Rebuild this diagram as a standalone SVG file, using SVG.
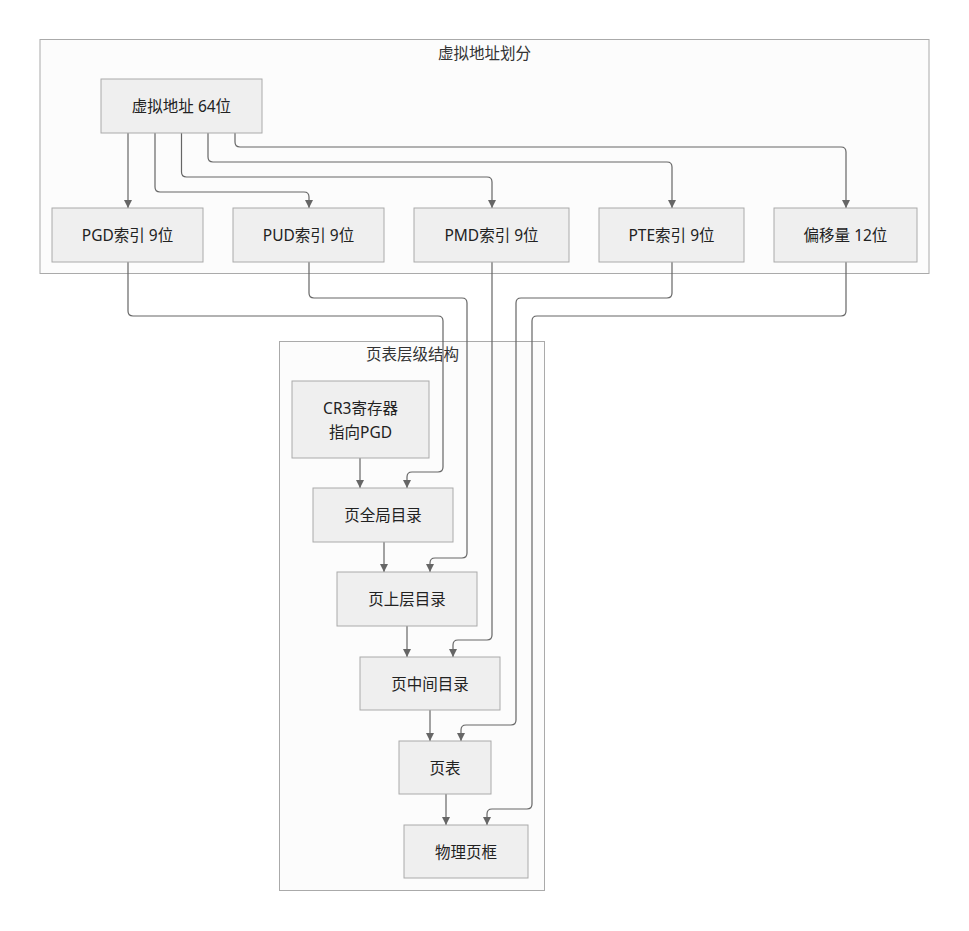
<svg xmlns="http://www.w3.org/2000/svg" width="969" height="931" viewBox="0 0 969 931">
<style>
.cluster{fill:#fcfcfc;stroke:#aaaaaa;stroke-width:1}
.node rect{fill:#efefef;stroke:#aaaaaa;stroke-width:1}
text{font-family:"Noto Sans","Noto Sans CJK SC",sans-serif;font-size:15.5px;fill:#222;text-anchor:middle;dominant-baseline:central}
.title{fill:#333}
.edge{fill:none;stroke:#666666;stroke-width:1.2;marker-end:url(#arr)}
</style>
<defs>
<marker id="arr" viewBox="0 0 10 10" refX="10" refY="5" markerWidth="8" markerHeight="8" markerUnits="userSpaceOnUse" orient="auto">
<path d="M0,0 L10,5 L0,10 z" fill="#666666"/>
</marker>
</defs>
<rect width="969" height="931" fill="#ffffff"/>
<g id="cluster-vaddr">
<rect class="cluster" x="40" y="39.5" width="889" height="234"/>
<text class="title" x="484.5" y="53">虚拟地址划分</text>
</g>
<g id="cluster-pt">
<rect class="cluster" x="279.5" y="341.5" width="265" height="549"/>
<text class="title" x="412.5" y="354">页表层级结构</text>
</g>
<g id="edges">
<path class="edge" d="M128,133 V208"/>
<path class="edge" d="M155,133 V187 Q155,192 160,192 H304 Q309,192 309,197 V208"/>
<path class="edge" d="M181.5,133 V172 Q181.5,177 186.5,177 H487 Q492,177 492,182 V208"/>
<path class="edge" d="M208,133 V157 Q208,162 213,162 H667 Q672,162 672,167 V208"/>
<path class="edge" d="M235,133 V142 Q235,147 240,147 H841 Q846,147 846,152 V208"/>
<path class="edge" d="M128,262 V311 Q128,316 133,316 H438 Q443,316 443,321 V467 Q443,472 438,472 H412 Q407,472 407,477 V488"/>
<path class="edge" d="M309,262 V293 Q309,298 314,298 H462 Q467,298 467,303 V553 Q467,558 462,558 H435 Q430,558 430,563 V572"/>
<path class="edge" d="M492,262 V635 Q492,640 487,640 H458 Q453,640 453,645 V657"/>
<path class="edge" d="M672,262 V293 Q672,298 667,298 H521 Q516,298 516,303 V720 Q516,725 511,725 H466 Q461,725 461,730 V741"/>
<path class="edge" d="M846,262 V311 Q846,316 841,316 H537 Q532,316 532,321 V804 Q532,809 527,809 H492 Q487,809 487,814 V825"/>
<path class="edge" d="M360,458 V488"/>
<path class="edge" d="M384,542 V572"/>
<path class="edge" d="M407,626 V657"/>
<path class="edge" d="M430,710 V741"/>
<path class="edge" d="M446,794 V825"/>
</g>
<g id="node-vaddr" class="node"><rect x="101" y="79" width="161" height="54"/><text x="181.5" y="106">虚拟地址 64位</text></g>
<g id="node-pgd" class="node"><rect x="52" y="208" width="151" height="54"/><text x="127.5" y="235">PGD索引 9位</text></g>
<g id="node-pud" class="node"><rect x="233" y="208" width="151" height="54"/><text x="308.5" y="235">PUD索引 9位</text></g>
<g id="node-pmd" class="node"><rect x="414" y="208" width="155" height="54"/><text x="491.5" y="235">PMD索引 9位</text></g>
<g id="node-pte" class="node"><rect x="599" y="208" width="145" height="54"/><text x="671.5" y="235">PTE索引 9位</text></g>
<g id="node-offset" class="node"><rect x="774" y="208" width="143" height="54"/><text x="845.5" y="235">偏移量 12位</text></g>
<g id="node-cr3" class="node"><rect x="292" y="381" width="137" height="77"/><text x="360.5" y="408">CR3寄存器</text><text x="360.5" y="432">指向PGD</text></g>
<g id="node-pgdir" class="node"><rect x="313" y="488" width="140" height="54"/><text x="383" y="515">页全局目录</text></g>
<g id="node-pudir" class="node"><rect x="337" y="572" width="140" height="54"/><text x="407" y="599">页上层目录</text></g>
<g id="node-pmdir" class="node"><rect x="360" y="657" width="140" height="53"/><text x="430" y="684">页中间目录</text></g>
<g id="node-pt" class="node"><rect x="399" y="741" width="92" height="53"/><text x="445" y="768">页表</text></g>
<g id="node-frame" class="node"><rect x="404" y="825" width="124" height="53"/><text x="466" y="852">物理页框</text></g>
</svg>
